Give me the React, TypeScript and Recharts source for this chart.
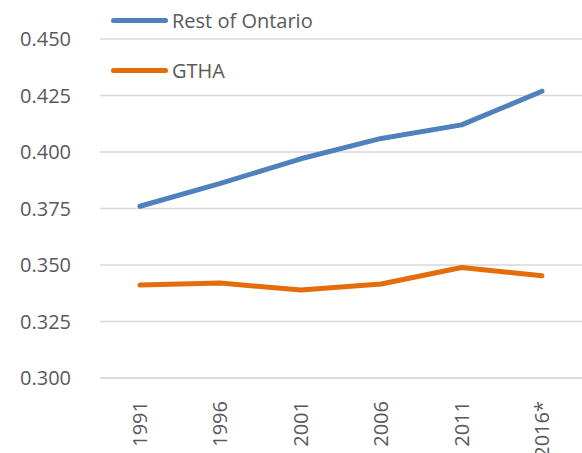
import { CartesianGrid, Line, LineChart, XAxis, YAxis } from 'recharts';

const years = ['1991', '1996', '2001', '2006', '2011', '2016*'];
const restOfOntario = [0.376, 0.3861, 0.397, 0.406, 0.412, 0.4269];
const gtha = [0.3411, 0.342, 0.3389, 0.3416, 0.3489, 0.3452];
const yTicks = [0.3, 0.325, 0.35, 0.375, 0.4, 0.425, 0.45];

const SERIES = [
  { key: 'rest', name: 'Rest of Ontario', color: '#4F81BD' },
  { key: 'gtha', name: 'GTHA', color: '#E46C0A' },
];

const data = years.map((year, i) => ({
  year,
  rest: restOfOntario[i],
  gtha: gtha[i],
}));

const FONT = '"Open Sans", "Liberation Sans", sans-serif';
const TEXT = '#595959';

function YearTick({ x, y, payload }: any) {
  return (
    <text
      transform={`translate(${x},${y + 15}) rotate(-90)`}
      textAnchor="end"
      dy="0.35em"
      fill={TEXT}
      fontSize={20}
      fontFamily={FONT}
    >
      {payload.value}
    </text>
  );
}

export default function App() {
  return (
    <div style={{ position: 'absolute', left: 0, top: 0, width: 582, height: 453, background: '#fff' }}>
      <LineChart width={582} height={453} data={data} margin={{ top: 39, right: 0, bottom: 0, left: 0 }}>
        <CartesianGrid vertical={false} stroke="#D9D9D9" strokeWidth={1.3} />
        <XAxis
          dataKey="year"
          height={75}
          padding={{ left: 40, right: 40 }}
          tickLine={false}
          axisLine={{ stroke: '#D9D9D9', strokeWidth: 1.3 }}
          tick={<YearTick />}
          interval={0}
        />
        <YAxis
          width={100}
          domain={[0.3, 0.45]}
          ticks={yTicks}
          tickFormatter={(v: number) => v.toFixed(3)}
          axisLine={false}
          tickLine={false}
          tickSize={0}
          tickMargin={29}
          tick={{ fill: TEXT, fontSize: 20, fontFamily: FONT }}
        />
        {SERIES.map((s) => (
          <Line
            key={s.key}
            dataKey={s.key}
            name={s.name}
            stroke={s.color}
            strokeWidth={5}
            strokeLinecap="round"
            strokeLinejoin="round"
            dot={false}
            isAnimationActive={false}
          />
        ))}
      </LineChart>
      {SERIES.map((s, i) => (
        <div
          key={s.key}
          style={{
            position: 'absolute',
            left: 111,
            top: 20 + i * 50 - 15,
            height: 30,
            display: 'flex',
            alignItems: 'center',
            fontFamily: FONT,
            fontSize: 20,
            color: TEXT,
            whiteSpace: 'nowrap',
          }}
        >
          <span
            style={{ display: 'inline-block', width: 57, height: 5, borderRadius: 3, background: s.color, marginRight: 4 }}
          />
          {s.name}
        </div>
      ))}
    </div>
  );
}
